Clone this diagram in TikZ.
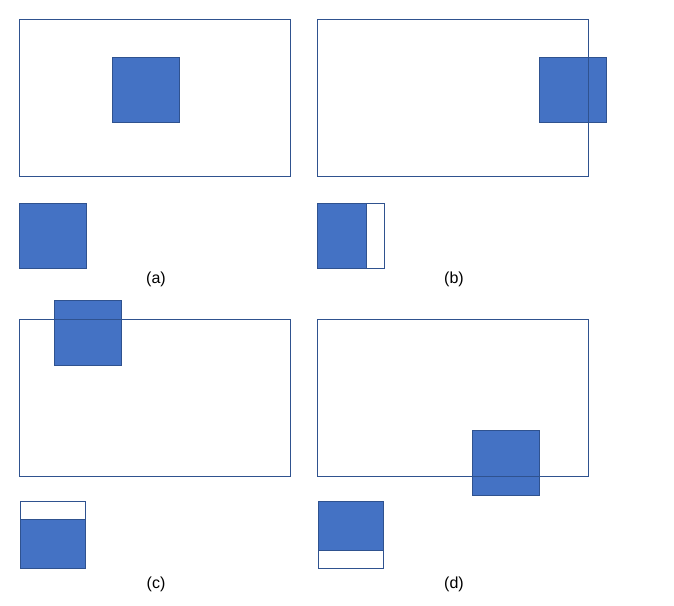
\documentclass[tikz,border=0pt]{standalone}
\usepackage{fontspec}
\setmainfont{Liberation Sans}
\usetikzlibrary{positioning}
\definecolor{winFill}{RGB}{68,114,196}
\definecolor{winEdge}{RGB}{47,82,143}

\begin{document}
\begin{tikzpicture}[
    x=1pt, y=-1pt,
    frame/.style={draw=winEdge, line width=1pt},
    win/.style={draw=winEdge, line width=1pt, fill=winFill},
    part/.style={draw=winEdge, line width=1pt, fill=white},
    caption/.style={font=\fontsize{16}{19}\selectfont, inner sep=0pt}
]
\useasboundingbox (0,0) rectangle (674,605);

% (a) window inside the frame
\draw[win] (112.3,57.3) rectangle (179.7,122.7);
\draw[frame] (19.3,19.3) rectangle (290.7,176.3);
\draw[win] (19.3,203.3) rectangle (86.7,268.3);
\node[caption] (capA) at (156,279.5) {(a)};

% (b) window cut on the right
\draw[win] (539.3,57.3) rectangle (606.7,122.7);
\draw[frame] (317.3,19.3) rectangle (588.3,176.3);
\draw[part] (317.3,203.3) rectangle (384.7,268.3);
\draw[win] (317.3,203.3) rectangle (366.7,268.3);
\node[caption] (capB) at (454,279.5) {(b)};

% (c) window cut on the top
\draw[win] (54.3,300.3) rectangle (121.7,365.3);
\draw[frame] (19.3,319.3) rectangle (290.7,476.3);
\draw[part] (20.3,501.3) rectangle (85.7,568.3);
\draw[win] (20.3,519.3) rectangle (85.7,568.3);
\node[caption] (capC) at (156,584.5) {(c)};

% (d) window cut on the bottom
\draw[win] (472.3,430.3) rectangle (539.7,495.3);
\draw[frame] (317.3,319.3) rectangle (588.3,476.3);
\draw[part] (318.3,501.3) rectangle (383.7,568.3);
\draw[win] (318.3,501.3) rectangle (383.7,550.3);
\node[caption] (capD) at (454,584.5) {(d)};

\end{tikzpicture}
\end{document}
